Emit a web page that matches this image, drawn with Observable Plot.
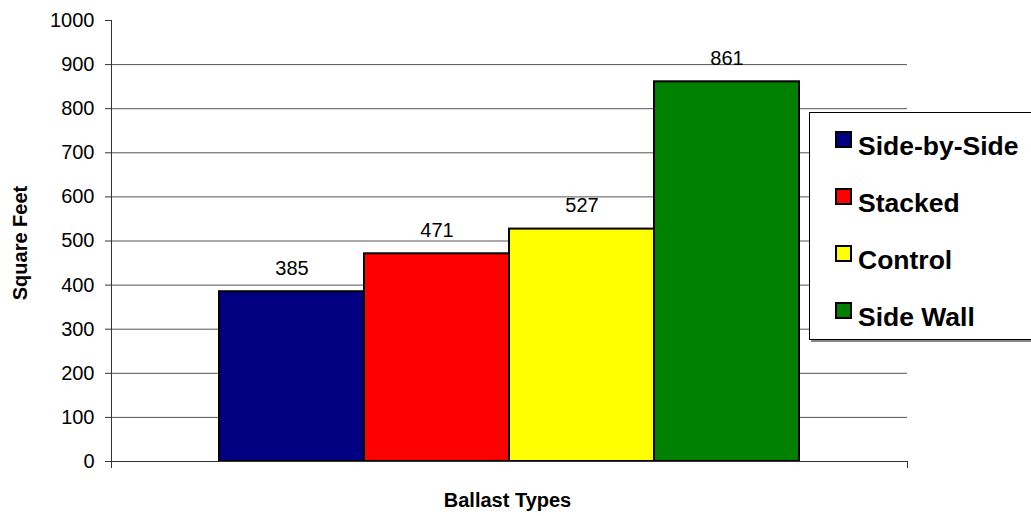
<!DOCTYPE html>
<html>
<head>
<meta charset="utf-8">
<script src="https://cdn.jsdelivr.net/npm/d3@7"></script>
<script src="https://cdn.jsdelivr.net/npm/@observablehq/plot@0.6"></script>
<style>
  html, body { margin: 0; padding: 0; background: #fff; overflow: hidden; }
  #wrap { position: relative; width: 1031px; height: 516px; overflow: hidden; font-family: "Liberation Sans", Arial, sans-serif; }
  #legend { position: absolute; left: 809px; top: 112px; width: 240px; height: 228px; border: 1px solid #000; box-shadow: 2px 2px 0 #888; background: #fff; box-sizing: border-box; }
  .sw { position: absolute; left: 25px; width: 17px; height: 17px; border: 2px solid #000; box-sizing: border-box; }
  .lt { position: absolute; left: 48px; font-weight: bold; font-size: 26.5px; line-height: 26px; color: #000; white-space: nowrap; }
</style>
</head>
<body>
<div id="wrap"><div id="chart"></div><div id="legend"></div></div>
<script>
const categories = ["Side-by-Side", "Stacked", "Control", "Side Wall"];
const values = [385, 471, 527, 861];
const colors = ["#000080", "#FF0000", "#FFFF00", "#008000"];
const yTicks = [0, 100, 200, 300, 400, 500, 600, 700, 800, 900, 1000];
const gridTicks = [100, 200, 300, 400, 500, 600, 700, 800, 900];
const yLabel = "Square Feet";
const xLabel = "Ballast Types";

const data = categories.map((c, i) => ({type: c, value: values[i]}));

const chart = Plot.plot({
  width: 1031,
  height: 516,
  marginTop: 20,
  marginBottom: 55,
  marginLeft: 111,
  marginRight: 124,
  style: {fontFamily: "'Liberation Sans', Arial, sans-serif", fontSize: "20px", color: "#000", background: "#fff"},
  x: {domain: categories, range: [219, 799], padding: 0, axis: null},
  y: {domain: [0, 1000], axis: null},
  color: {domain: categories, range: colors},
  marks: [
    Plot.ruleY(gridTicks, {stroke: "#555", strokeWidth: 1}),
    Plot.barY(data, {x: "type", y: "value", fill: "type", stroke: "#000", strokeWidth: 2}),
    Plot.text(data, {x: "type", y: "value", text: d => String(d.value), dy: -17, lineAnchor: "bottom", fontSize: 20, fill: "#000"}),
    Plot.frame({anchor: "left", stroke: "#333", insetBottom: -6}),
    Plot.frame({anchor: "bottom", stroke: "#333"}),
    Plot.frame({anchor: "right", stroke: "#333", insetTop: 441, insetBottom: -6}),
    Plot.axisY({ticks: yTicks, tickSize: 6, tickPadding: 11, tickFormat: d => String(d), fontSize: 20, stroke: "#333", fill: "#000", label: null}),
    Plot.text([yLabel], {frameAnchor: "left", textAnchor: "middle", dx: -91, dy: 2, rotate: -90, fontWeight: "bold", fontSize: 20, fill: "#000"}),
    Plot.text([xLabel], {frameAnchor: "bottom", textAnchor: "middle", dx: -2, dy: 45, fontWeight: "bold", fontSize: 20, fill: "#000"})
  ]
});
document.getElementById("chart").appendChild(chart);

const legend = document.getElementById("legend");
const textTops = [20, 77, 134, 191];
const swatchTops = [18, 75, 132, 189];
categories.forEach((c, i) => {
  const sw = document.createElement("div");
  sw.className = "sw";
  sw.style.top = swatchTops[i] + "px";
  sw.style.background = colors[i];
  const t = document.createElement("div");
  t.className = "lt";
  t.style.top = textTops[i] + "px";
  t.textContent = c;
  legend.appendChild(sw);
  legend.appendChild(t);
});
</script>
</body>
</html>
